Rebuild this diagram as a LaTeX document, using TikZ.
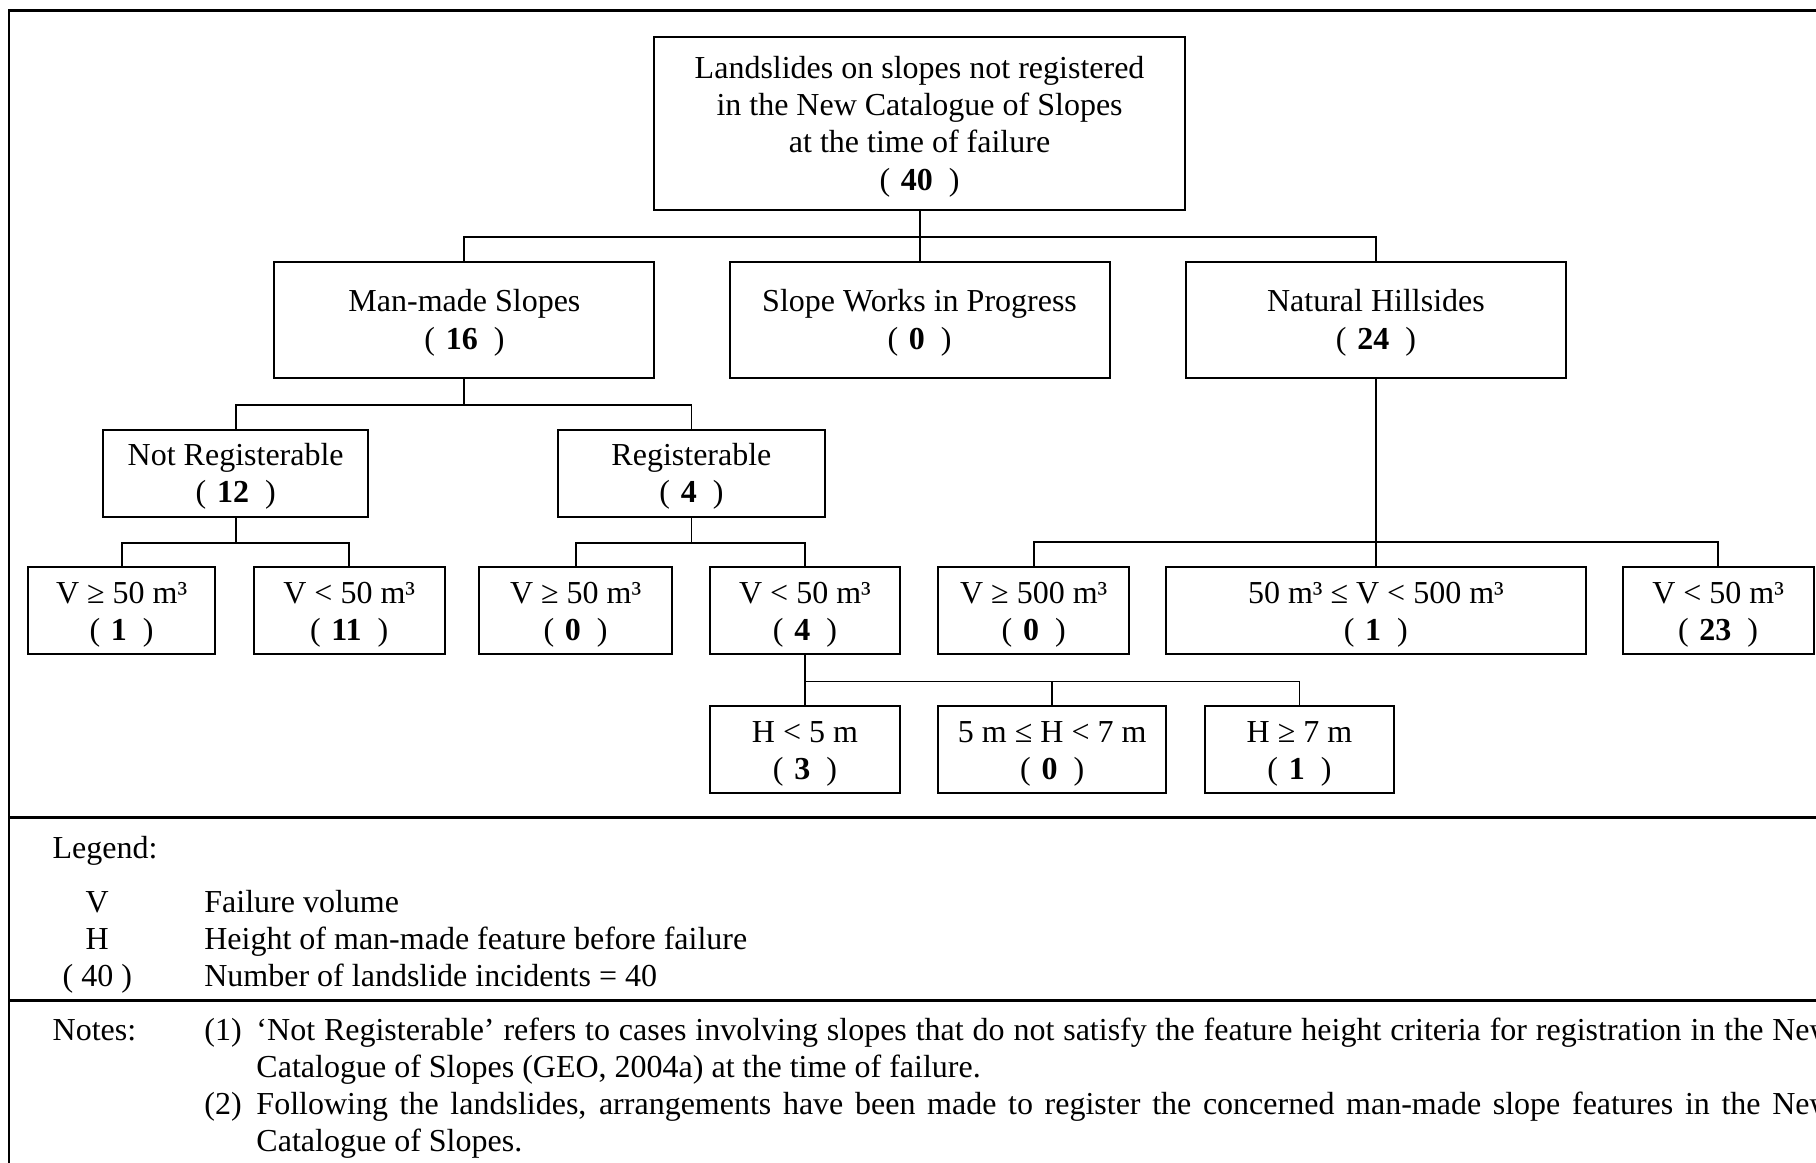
\documentclass[tikz,border=0pt]{standalone}
\usepackage{fontspec}
\setmainfont{Liberation Serif}
\tikzstyle{box} = [draw, line width=0.75pt, align=center, inner sep=0pt, minimum height=32.6pt, text height=24.8pt, text depth=2.6pt]
\tikzstyle{bigbox} = [box, minimum height=43.4pt]
\tikzstyle{link} = [line width=0.7pt]
\tikzstyle{rule} = [line width=0.9pt]
\tikzstyle{txt} = [inner sep=0pt, anchor=base west]
\tikzstyle{sym} = [inner sep=0pt, anchor=base]
\newcommand{\cnt}[1]{(\hspace{4pt}\textbf{#1}\hspace{6pt})}

\begin{document}
\begin{tikzpicture}[x=0.4343pt, y=-0.4343pt, font=\fontsize{12}{14}\selectfont]
    \useasboundingbox (0,0) rectangle (1568,1004);
    \clip (0,0) rectangle (1568,1004);
    \draw [rule] (8,1040) -- (8,9) -- (1620,9);
    \draw [rule] (8,706) -- (1620,706);
    \draw [rule] (8,864) -- (1620,864);

    \node (top) [box, minimum width=199.3pt, minimum height=64.7pt, text height=52.6pt] at (794,106.5)
      {Landslides on slopes not registered\\in the New Catalogue of Slopes\\at the time of failure\\\cnt{40}};

    \node (mms) [bigbox, minimum width=142.5pt] at (401,276) {Man-made Slopes\\\cnt{16}};
    \node (swp) [bigbox, minimum width=142.5pt] at (794,276) {Slope Works in Progress\\\cnt{0}};
    \node (nh) [bigbox, minimum width=142.5pt] at (1188,276) {Natural Hillsides\\\cnt{24}};
    \draw [link] (top.south) -- ++(0,22.5) -| (mms.north);
    \draw [link] (top.south) -- (swp.north);
    \draw [link] (top.south) -- ++(0,22.5) -| (nh.north);

    \node (nreg) [box, minimum width=99.5pt] at (203.5,408.5) {Not Registerable\\\cnt{12}};
    \node (reg) [box, minimum width=99.9pt] at (597,408.5) {Registerable\\\cnt{4}};
    \draw [link] (mms.south) -- ++(0,22.5) -| (nreg.north);
    \draw [link] (mms.south) -- ++(0,22.5) -| (reg.north);

    \node (nregbig) [box, minimum width=70.4pt] at (105,527.5) {V ≥ 50 m³\\\cnt{1}};
    \node (nregsmall) [box, minimum width=71.7pt] at (301.5,527.5) {V < 50 m³\\\cnt{11}};
    \draw [link] (nreg.south) -- ++(0,22) -| (nregbig.north);
    \draw [link] (nreg.south) -- ++(0,22) -| (nregsmall.north);

    \node (regbig) [box, minimum width=72.1pt] at (497,527.5) {V ≥ 50 m³\\\cnt{0}};
    \node (regsmall) [box, minimum width=71.2pt] at (695,527.5) {V < 50 m³\\\cnt{4}};
    \draw [link] (reg.south) -- ++(0,22) -| (regbig.north);
    \draw [link] (reg.south) -- ++(0,22) -| (regsmall.north);

    \node (nhbig) [box, minimum width=71.7pt] at (892.5,527.5) {V ≥ 500 m³\\\cnt{0}};
    \node (nhmid) [box, minimum width=157.2pt] at (1188,527.5) {50 m³ ≤ V < 500 m³\\\cnt{1}};
    \node (nhsmall) [box, minimum width=71.7pt] at (1483.5,527.5) {V < 50 m³\\\cnt{23}};
    \draw [link] (nh.south) -- ++(0,141) -| (nhbig.north);
    \draw [link] (nh.south) -- (nhmid.north);
    \draw [link] (nh.south) -- ++(0,141) -| (nhsmall.north);

    \node (low) [box, minimum width=71.2pt] at (695,647.5) {H < 5 m\\\cnt{3}};
    \node (mid) [box, minimum width=85.6pt] at (908.5,647.5) {5 m ≤ H < 7 m\\\cnt{0}};
    \node (high) [box, minimum width=71.2pt] at (1122,647.5) {H ≥ 7 m\\\cnt{1}};
    \draw [link] (regsmall.south) -- (low.north);
    \draw [link] (regsmall.south) -- ++(0,22.5) -| (mid.north);
    \draw [link] (regsmall.south) -- ++(0,22.5) -| (high.north);

    \node (legend) [txt] at (45,741) {Legend:};
    \node (symv) [sym] at (84,788) {V};
    \node (defv) [txt] at (176,788) {Failure volume};
    \node (symh) [sym] at (84,820) {H};
    \node (defh) [txt] at (176,820) {Height of man-made feature before failure};
    \node (symn) [sym] at (84,852) {( 40 )};
    \node (defn) [txt] at (176,852) {Number of landslide incidents = 40};

    \node (notes) [txt] at (45,898) {Notes:};
    \node (noteone) [txt] at (176,898) {(1)};
    \node (noteonetext) [txt, text width=591pt, align=justify] at (221,898)
      {‘Not Registerable’ refers to cases involving slopes that do not satisfy the feature height criteria for registration in the New\linebreak Catalogue of Slopes (GEO, 2004a) at the time of failure.};
    \node (notetwo) [txt] at (176,962) {(2)};
    \node (notetwotext) [txt, text width=591pt, align=justify] at (221,962)
      {Following the landslides, arrangements have been made to register the concerned man-made slope features in the New\linebreak Catalogue of Slopes.};
\end{tikzpicture}
\end{document}
